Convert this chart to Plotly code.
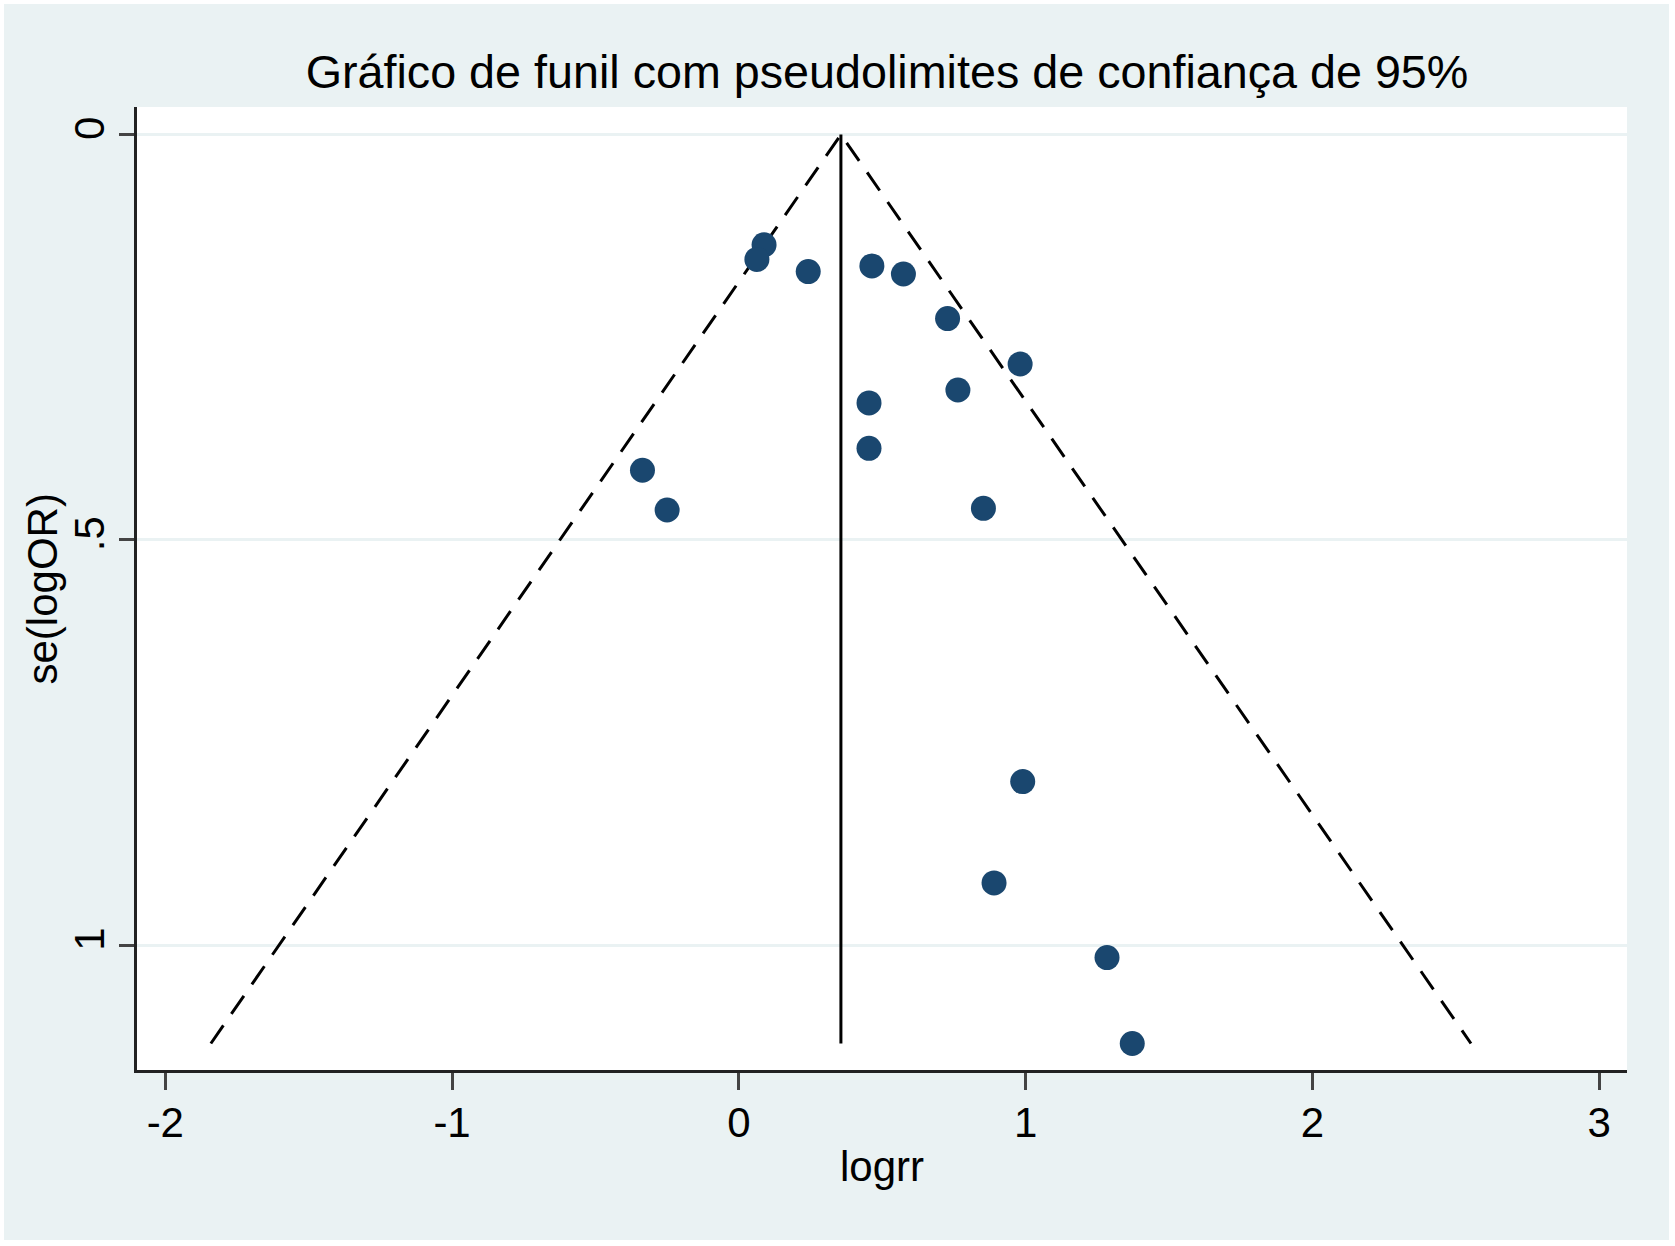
import plotly.graph_objects as go

# ---- data ----
logrr = [0.088, 0.063, 0.242, 0.464, 0.574, 0.728, 0.981, 0.764, 0.454, 0.454,
         -0.336, -0.250, 0.853, 0.990, 0.890, 1.284, 1.372]
se_logor = [0.136, 0.154, 0.169, 0.162, 0.172, 0.227, 0.283, 0.315, 0.331, 0.387,
            0.414, 0.463, 0.461, 0.798, 0.923, 1.015, 1.121]
pooled_logrr = 0.356
z95 = 1.96

x_ticks = [-2, -1, 0, 1, 2, 3]
x_ticklabels = ["-2", "-1", "0", "1", "2", "3"]
y_ticks = [0, 0.5, 1]
y_ticklabels = ["0", ".5", "1"]

title_text = "Gráfico de funil com pseudolimites de confiança de 95%"
x_title = "logrr"
y_title = "se(logOR)"

# ---- derived funnel geometry ----
max_se = max(se_logor)
funnel_se = [max_se, 0, max_se]
funnel_x = [pooled_logrr - z95 * max_se, pooled_logrr, pooled_logrr + z95 * max_se]

BG = "#EAF2F3"
NAVY = "#1a476f"
FONT = "Liberation Sans, Arial, Helvetica, sans-serif"

fig = go.Figure()

fig.add_trace(go.Scatter(
    x=funnel_x, y=funnel_se, mode="lines",
    line=dict(color="black", width=3, dash="22px,14px"),
    hoverinfo="skip", showlegend=False))

fig.add_trace(go.Scatter(
    x=[pooled_logrr, pooled_logrr], y=[0, max_se], mode="lines",
    line=dict(color="black", width=3),
    hoverinfo="skip", showlegend=False))

fig.add_trace(go.Scatter(
    x=logrr, y=se_logor, mode="markers",
    marker=dict(color=NAVY, size=25, line=dict(width=0)),
    showlegend=False))

W, H = 1675, 1246
L, R, T, B = 137, 48, 107, 176
pw, ph = W - L - R, H - T - B

fig.update_layout(
    width=W, height=H,
    margin=dict(l=L, r=R, t=T, b=B, autoexpand=False),
    paper_bgcolor="white",
    plot_bgcolor="rgba(0,0,0,0)",
    font=dict(family=FONT, color="black", size=42),
    title=dict(text=title_text, x=887 / W, xanchor="center",
               y=1 - 72 / H, yanchor="middle",
               font=dict(family=FONT, size=46.7, color="black")),
    shapes=[
        dict(type="rect", xref="paper", yref="paper", layer="below",
             x0=(4 - L) / pw, x1=(1669 - L) / pw,
             y0=(H - B - 1240) / ph, y1=(H - B - 4) / ph,
             fillcolor=BG, line=dict(width=0)),
        dict(type="rect", xref="paper", yref="paper", layer="below",
             x0=0, x1=1, y0=0, y1=1,
             fillcolor="white", line=dict(width=0)),
    ],
    annotations=[
        dict(text=y_title, xref="paper", yref="paper",
             x=(42 - L) / pw, y=0.5, xanchor="center", yanchor="middle",
             textangle=-90, showarrow=False,
             font=dict(family=FONT, size=42, color="black")),
    ],
    xaxis=dict(
        range=[-2.0987, 3.0973],
        tickmode="array", tickvals=x_ticks, ticktext=x_ticklabels,
        ticks="outside", ticklen=17, tickwidth=2.5, tickcolor="#444",
        ticklabelstandoff=-3,
        showline=True, linecolor="#222", linewidth=2.5,
        showgrid=False, zeroline=False,
        tickfont=dict(size=42, color="black"),
        title=dict(text=x_title, font=dict(size=42, color="black"), standoff=7),
    ),
    yaxis=dict(
        range=[1.1537, -0.034],
        tickmode="array", tickvals=y_ticks, ticktext=y_ticklabels,
        tickangle=-90,
        ticks="outside", ticklen=15, tickwidth=2.5, tickcolor="#444",
        ticklabelstandoff=-2,
        showline=True, linecolor="#222", linewidth=2.5,
        showgrid=True, gridcolor=BG, gridwidth=2.5,
        zeroline=True, zerolinecolor=BG, zerolinewidth=2.5,
        tickfont=dict(size=42, color="black"),
    ),
)

fig.write_html("out.html", config={"displayModeBar": False},
               post_script="document.body.style.margin='0';")
